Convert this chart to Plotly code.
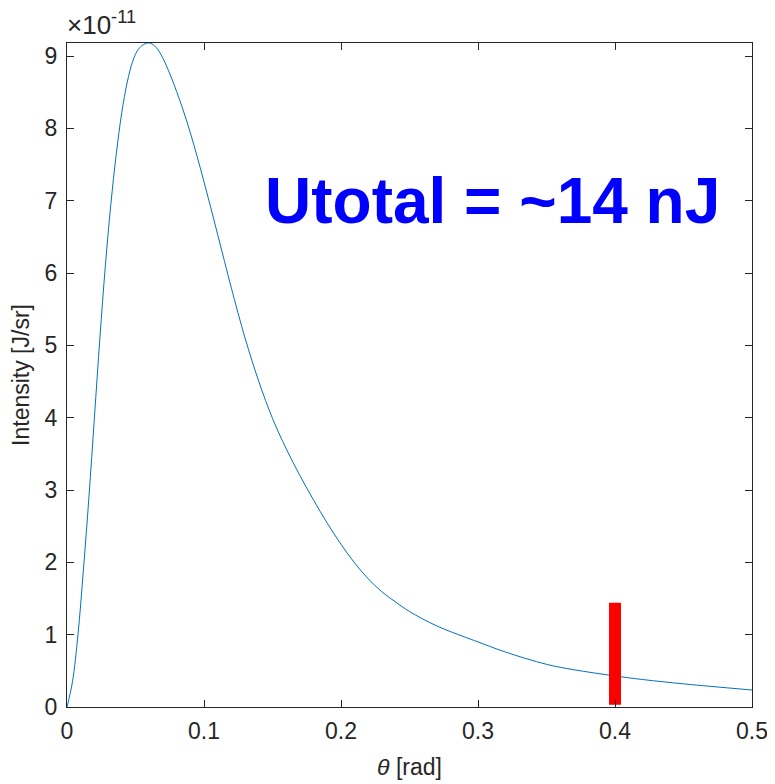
import plotly.graph_objects as go

# Data (intensity in units of 1e-11 J/sr)
theta = [0, 0.004, 0.008, 0.012, 0.016, 0.020, 0.024, 0.028, 0.032, 0.036,
         0.040, 0.044, 0.048, 0.052, 0.056, 0.060, 0.064, 0.068, 0.072, 0.076,
         0.080, 0.085, 0.090, 0.095, 0.100, 0.105, 0.110, 0.115, 0.120, 0.130,
         0.140, 0.150, 0.160, 0.170, 0.180, 0.190, 0.200, 0.210, 0.220, 0.230,
         0.240, 0.250, 0.270, 0.290, 0.300, 0.320, 0.350, 0.370, 0.400, 0.420,
         0.450, 0.470, 0.500]
intensity = [0, 0.35, 1.0, 1.9, 2.9, 4.0, 5.1, 6.1, 6.95, 7.65,
             8.22, 8.64, 8.93, 9.09, 9.16, 9.18, 9.14, 9.04, 8.89, 8.71,
             8.51, 8.24, 7.94, 7.61, 7.26, 6.90, 6.53, 6.16, 5.79, 5.10,
             4.50, 3.99, 3.57, 3.20, 2.86, 2.54, 2.25, 1.99, 1.77, 1.59,
             1.45, 1.32, 1.12, 0.97, 0.90, 0.76, 0.59, 0.515, 0.43, 0.38,
             0.32, 0.285, 0.235]
scale = 1e-11
marker_x = [0.4, 0.4]
marker_y = [0.03, 1.44]

x_ticks = [0, 0.1, 0.2, 0.3, 0.4, 0.5]
x_ticktext = ["0", "0.1", "0.2", "0.3", "0.4", "0.5"]
y_ticks = [0, 1, 2, 3, 4, 5, 6, 7, 8, 9]
y_ticktext = [str(v) for v in y_ticks]

FONT = "Liberation Sans, Arial, sans-serif"

fig = go.Figure()
fig.add_trace(go.Scatter(x=theta, y=[v * scale for v in intensity], mode="lines",
                         line=dict(color="#0072BD", width=1, shape="spline", smoothing=1.0),
                         hoverinfo="skip", showlegend=False))
fig.add_trace(go.Scatter(x=marker_x, y=[v * scale for v in marker_y], mode="lines",
                         line=dict(color="#FF0000", width=12),
                         hoverinfo="skip", showlegend=False))

axis_common = dict(showline=True, linecolor="#262626", linewidth=1, mirror="ticks",
                   ticks="inside", ticklen=7, tickcolor="#262626", showgrid=False,
                   zeroline=False, automargin=False,
                   tickfont=dict(family=FONT, size=23, color="#262626"))

# The page body adds an 8px offset, so the figure is 8px smaller than the window
fig.update_layout(
    width=767, height=776,
    margin=dict(l=59, r=23, t=35, b=77),
    paper_bgcolor="white", plot_bgcolor="white",
    xaxis=dict(range=[0, 0.5], tickvals=x_ticks, ticktext=x_ticktext,
               ticklabelstandoff=3,
               title=dict(text="<i>θ</i> [rad]", standoff=16,
                          font=dict(family=FONT, size=23, color="#262626")),
               **axis_common),
    yaxis=dict(range=[0, 9.18 * scale], tickvals=[v * scale for v in y_ticks], ticktext=y_ticktext,
               ticklabelstandoff=4,
               title=dict(text="Intensity [J/sr]", standoff=12,
                          font=dict(family=FONT, size=23, color="#262626")),
               **axis_common),
    annotations=[
        dict(text="×10<sup>-11</sup>", xref="paper", yref="paper", x=0, y=1.0,
             xanchor="left", yanchor="bottom", showarrow=False, yshift=1, xshift=-2,
             font=dict(family=FONT, size=26, color="#262626")),
        dict(text="<b>Utotal = ~14 nJ</b>", xref="x", yref="y", x=0.3105, y=7.0 * scale,
             xanchor="center", yanchor="middle", showarrow=False,
             font=dict(family=FONT, size=64, color="#0000FF")),
    ],
)

fig.write_html("out.html")
